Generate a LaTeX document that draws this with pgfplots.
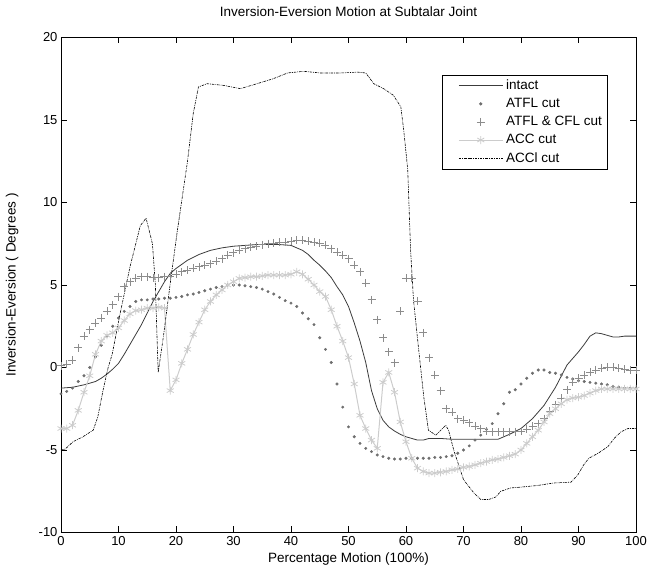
\documentclass[border=0pt]{standalone}
\usepackage{fontspec}
\setmainfont{Liberation Sans}
\usepackage{pgfplots}
\pgfplotsset{compat=1.18}
\usetikzlibrary{calc}

\definecolor{cintact}{HTML}{3C3C3C}
\definecolor{catfl}{HTML}{6E6E6E}
\definecolor{ccfl}{HTML}{8C8C8C}
\definecolor{cacc}{HTML}{CCCCCC}

\pgfplotsset{
  linelegend/.style={legend image code/.code={\node[inner sep=0pt, draw=none, fill=none] at (-14pt,0pt) {};
        \draw[mark repeat=2, mark phase=2] plot coordinates {(0pt,0pt) (22pt,0pt) (44pt,0pt)};}},
  marklegend/.style={legend image code/.code={\node[inner sep=0pt, draw=none, fill=none] at (-14pt,0pt) {};
        \draw plot coordinates {(22pt,0pt)};
        \node[inner sep=0pt, draw=none, fill=none] at (44pt,0pt) {};}},
}

\begin{document}
\begin{tikzpicture}
\begin{axis}[
    name=ax,
    scale only axis,
    width=575pt, height=495pt,
    xmin=0, xmax=100, ymin=-10, ymax=20,
    xtick={0,10,...,100}, ytick={-10,-5,...,20},
    tick align=inside, major tick length=6pt,
    axis line style={line width=0.7pt},
    tick style={line width=0.7pt, black},
    /pgf/number format/assume math mode=true,
    tick label style={font=\fontsize{13}{15}\selectfont},
    title={Inversion-Eversion Motion at Subtalar Joint},
    title style={font=\fontsize{13.5}{16}\selectfont, at={(axis description cs:0.5,1.04)}, anchor=center},
    xlabel={Percentage Motion (100\%)},
    ylabel={Inversion-Eversion ( Degrees )},
    label style={font=\fontsize{13.5}{16}\selectfont},
    xlabel style={at={(axis description cs:0.5,-0.054)}, anchor=center},
    ylabel style={at={(axis description cs:-0.085,0.5)}, anchor=center},
    legend cell align=left,
    legend style={at={(0.95,0.925)}, anchor=north east, draw=black, line width=0.7pt,
        font=\fontsize{13.5}{16}\selectfont, row sep=3.2pt, inner sep=3pt},
]
% intact
\addplot[cintact, line width=0.8pt, linelegend] coordinates {
(0,-1.25)(2,-1.2)(4,-1.05)(6,-0.85)(7,-0.65)(8,-0.4)(9,-0.1)(10,0.25)(11,0.8)(12,1.4)(13,2.0)(14,2.6)(15,3.3)(16,4.0)(17,4.6)(18,5.2)(19,5.7)(20,6.0)(22,6.5)(24,6.85)(26,7.1)(28,7.25)(30,7.35)(32,7.4)(34,7.45)(36,7.45)(38,7.45)(40,7.4)(41,7.25)(42,7.1)(43,6.85)(44,6.5)(45,6.2)(46,5.85)(47,5.45)(48,4.9)(49,4.4)(50,3.7)(51,2.7)(52,1.6)(53,0.3)(54,-1.4)(55,-2.5)(56,-3.2)(57,-3.6)(58,-3.85)(59,-4.05)(60,-4.2)(62,-4.4)(63,-4.4)(64,-4.3)(66,-4.3)(68,-4.35)(70,-4.35)(72,-4.35)(74,-4.35)(76,-4.35)(77,-4.2)(78,-4.05)(80,-3.7)(82,-3.1)(84,-2.3)(86,-1.2)(88,0.15)(90,0.95)(91,1.4)(92,1.9)(93,2.1)(94,2.05)(95,1.95)(96,1.85)(97,1.85)(98,1.9)(100,1.9)
};
\addlegendentry{intact}
% ATFL cut
\addplot[only marks, mark=*, mark size=1.3pt, catfl, marklegend] coordinates {
(0,-1.6)(1,-1.45)(2,-1.25)(3,-0.85)(4,-0.5)(5,0.0)(6,0.65)(7,1.35)(8,1.9)(9,2.5)(10,3.0)(11,3.4)(12,3.7)(13,4.0)(14,4.1)(15,4.1)(16,4.15)(17,4.15)(18,4.2)(19,4.2)(20,4.25)(21,4.3)(22,4.4)(23,4.45)(24,4.55)(25,4.65)(26,4.75)(27,4.85)(28,4.9)(29,5.0)(30,5.0)(31,5.0)(32,4.95)(33,4.9)(34,4.85)(35,4.75)(36,4.6)(37,4.45)(38,4.25)(39,4.05)(40,3.9)(41,3.7)(42,3.3)(43,2.95)(44,2.6)(45,1.8)(46,1.1)(47,0.3)(48,-1.0)(49,-2.4)(50,-3.6)(51,-4.2)(52,-4.6)(53,-4.9)(54,-5.1)(55,-5.3)(56,-5.4)(57,-5.5)(58,-5.55)(59,-5.55)(60,-5.5)(61,-5.5)(62,-5.5)(63,-5.5)(64,-5.5)(65,-5.45)(66,-5.45)(67,-5.4)(68,-5.35)(69,-5.2)(70,-5.0)(71,-4.75)(72,-4.4)(73,-4.1)(74,-3.75)(75,-3.4)(76,-2.8)(77,-2.2)(78,-1.5)(79,-1.35)(80,-1.0)(81,-0.65)(82,-0.35)(83,-0.15)(84,-0.15)(85,-0.3)(86,-0.35)(87,-0.45)(88,-0.6)(89,-0.7)(90,-0.8)(91,-0.85)(92,-0.9)(93,-0.95)(94,-1.0)(95,-1.05)(96,-1.15)(97,-1.2)(98,-1.25)(99,-1.25)(100,-1.25)
};
\addlegendentry{ATFL cut}
% ATFL & CFL cut
\addplot[only marks, mark=+, mark size=4pt, ccfl, line width=0.7pt, marklegend] coordinates {
(0,0.1)(1,0.2)(2,0.45)(3,1.2)(4,1.9)(5,2.3)(6,2.7)(7,3.0)(8,3.4)(9,3.8)(10,4.3)(11,4.9)(12,5.2)(13,5.4)(14,5.5)(15,5.5)(16,5.45)(17,5.45)(18,5.5)(19,5.55)(20,5.65)(21,5.8)(22,5.9)(23,6.0)(24,6.1)(25,6.2)(26,6.3)(27,6.45)(28,6.6)(29,6.8)(30,6.95)(31,7.1)(32,7.2)(33,7.3)(34,7.35)(35,7.45)(36,7.5)(37,7.55)(38,7.6)(39,7.6)(40,7.65)(41,7.7)(42,7.7)(43,7.65)(44,7.6)(45,7.55)(46,7.4)(47,7.2)(48,7.0)(49,6.8)(50,6.6)(51,6.2)(52,5.8)(53,5.1)(54,4.1)(55,2.9)(56,1.8)(57,0.95)(58,0.3)(59,3.4)(60,5.4)(61,5.4)(62,4.0)(63,2.1)(64,0.6)(65,-0.45)(66,-1.4)(67,-2.5)(68,-2.7)(69,-3.1)(70,-3.2)(71,-3.35)(72,-3.55)(73,-3.7)(74,-3.85)(75,-3.9)(76,-3.9)(77,-3.9)(78,-3.9)(79,-3.9)(80,-3.85)(81,-3.75)(82,-3.55)(83,-3.4)(84,-3.1)(85,-2.65)(86,-2.25)(87,-1.85)(88,-1.35)(89,-0.9)(90,-0.65)(91,-0.45)(92,-0.3)(93,-0.15)(94,-0.05)(95,0.0)(96,0.0)(97,-0.05)(98,-0.1)(99,-0.15)(100,-0.15)
};
\addlegendentry{ATFL \& CFL cut}
% ACC cut
\addplot[cacc, line width=1pt, mark=asterisk, mark size=4pt, mark options={line width=0.8pt}, linelegend] coordinates {
(0,-3.7)(1,-3.7)(2,-3.5)(3,-2.6)(4,-1.5)(5,-0.5)(6,0.8)(7,1.6)(8,1.95)(9,2.1)(10,2.4)(11,2.85)(12,3.25)(13,3.45)(14,3.5)(15,3.6)(16,3.6)(17,3.65)(18,3.6)(19,-1.4)(20,-0.75)(21,0.25)(22,1.1)(23,2.0)(24,2.75)(25,3.5)(26,4.0)(27,4.4)(28,4.7)(29,5.0)(30,5.2)(31,5.4)(32,5.45)(33,5.5)(34,5.5)(35,5.55)(36,5.6)(37,5.6)(38,5.6)(39,5.6)(40,5.65)(41,5.8)(42,5.65)(43,5.35)(44,5.0)(45,4.6)(46,4.3)(47,3.5)(48,2.5)(49,1.6)(50,0.6)(51,-1.0)(52,-2.9)(53,-3.7)(54,-4.4)(55,-4.9)(56,-0.9)(57,-0.3)(58,-1.5)(59,-3.3)(60,-4.5)(61,-5.5)(62,-6.1)(63,-6.3)(64,-6.4)(65,-6.4)(66,-6.35)(67,-6.3)(68,-6.2)(69,-6.15)(70,-6.05)(71,-6.0)(72,-5.9)(73,-5.8)(74,-5.7)(75,-5.6)(76,-5.55)(77,-5.45)(78,-5.35)(79,-5.25)(80,-5.0)(81,-4.6)(82,-4.2)(83,-3.8)(84,-3.3)(85,-2.8)(86,-2.5)(87,-2.2)(88,-1.95)(89,-1.85)(90,-1.8)(91,-1.7)(92,-1.55)(93,-1.4)(94,-1.3)(95,-1.3)(96,-1.3)(97,-1.3)(98,-1.3)(99,-1.3)(100,-1.3)
};
\addlegendentry{ACC cut}
% ACCl cut
\addplot[black, line width=0.6pt, dash pattern=on 2.5pt off 1pt on 0.8pt off 1pt, linelegend] coordinates {
(0,-5.0)(0.7,-4.95)(2.1,-4.5)(3.8,-4.2)(5.6,-3.8)(6.4,-3.0)(7.3,-1.4)(8.2,0.0)(8.9,0.8)(10.3,3.3)(12,6.1)(13.8,8.6)(14.8,9.05)(15.9,7.5)(16.4,5.1)(16.9,-0.3)(17.8,1.85)(19,5.1)(20.2,8.2)(22,12.5)(23,15.4)(23.9,17.0)(25.4,17.2)(28.2,17.1)(31.2,16.9)(34.1,17.2)(36.9,17.5)(39.4,17.85)(42.2,17.95)(45.1,17.85)(48.6,17.85)(51.6,17.9)(53,17.85)(54.4,17.2)(56.1,16.9)(57.8,16.5)(59.1,15.8)(59.6,14.4)(60.3,12.0)(60.8,7.1)(61.3,4.1)(62.2,1.1)(63.1,-1.8)(63.9,-3.8)(65.2,-4.1)(66.9,-3.5)(67.4,-3.8)(68.3,-5.0)(70,-6.8)(71.8,-7.6)(73,-8.0)(74.4,-8.0)(75.6,-7.85)(76.5,-7.5)(78.2,-7.3)(80,-7.25)(82.9,-7.15)(85.7,-7.0)(88.7,-6.95)(89.9,-6.5)(90.9,-5.9)(91.8,-5.5)(93.4,-5.2)(95.1,-4.8)(96.2,-4.3)(97.4,-3.9)(98.6,-3.7)(100,-3.7)
};
\addlegendentry{ACCl cut}
\end{axis}
\pgfresetboundingbox
\path ($(ax.south west)+(-61pt,-34pt)$) rectangle ($(ax.north east)+(13pt,37.5pt)$);
\end{tikzpicture}
\end{document}
